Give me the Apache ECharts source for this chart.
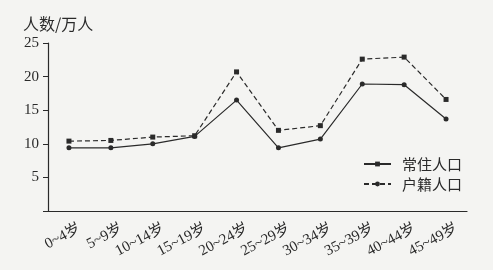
<!DOCTYPE html>
<html><head><meta charset="utf-8">
<script src="https://cdn.jsdelivr.net/npm/echarts@6/dist/echarts.min.js"></script>
<style>html,body{margin:0;padding:0;background:#f4f4f2;}#c{width:493px;height:270px;}</style>
</head><body><div id="c"></div>
<script>
var categories = ['0~4岁','5~9岁','10~14岁','15~19岁','20~24岁','25~29岁','30~34岁','35~39岁','40~44岁','45~49岁'];
var changzhu = [9.4, 9.4, 10.0, 11.1, 16.5, 9.4, 10.7, 18.9, 18.8, 13.7];
var huji = [10.4, 10.5, 11.0, 11.2, 20.7, 12.0, 12.7, 22.6, 22.9, 16.6];
var seriesNames = ['常住人口', '户籍人口'];
var yTicks = [0, 5, 10, 15, 20, 25];

var ink = '#2a2a2a';
var serif = 'Liberation Serif, DejaVu Serif, Noto Sans CJK SC, serif';
var chart = echarts.init(document.getElementById('c'));
chart.setOption({
  backgroundColor: '#f4f4f2',
  animation: false,
  grid: {left: 48, right: 26, top: 43, bottom: 59, containLabel: false},
  title: {text: '人数/万人', left: 18, top: 11, textStyle: {fontFamily: 'Noto Sans CJK SC', fontSize: 16, fontWeight: 'normal', color: ink}},
  legend: {
    orient: 'vertical', left: 358, top: 151, itemWidth: 27, itemHeight: 6, itemGap: 4,
    textStyle: {fontFamily: 'Noto Sans CJK SC', fontSize: 15, lineHeight: 16, color: ink, padding: [0,0,0,6]},
    data: [
      {name: seriesNames[0]},
      {name: seriesNames[1]}
    ]
  },
  xAxis: {
    type: 'category', data: categories, boundaryGap: true,
    axisLine: {lineStyle: {color: ink, width: 1.2}},
    axisTick: {inside: true, length: 5, alignWithLabel: false, lineStyle: {color: ink}},
    axisLabel: {rotate: 28, margin: 22, interval: 0, color: ink, fontFamily: serif, fontSize: 15, padding: [0, -12, 0, 0]}
  },
  yAxis: {
    type: 'value', min: yTicks[0], max: yTicks[yTicks.length-1], interval: 5,
    splitLine: {show: false},
    axisLine: {show: true, lineStyle: {color: ink, width: 1.2}},
    axisTick: {show: true, length: 5, lineStyle: {color: ink}},
    axisLabel: {color: ink, fontFamily: serif, fontSize: 15, margin: 9, formatter: function(v){return v === 0 ? '' : v;}}
  },
  series: [
    {name: seriesNames[0], type: 'line', symbol: 'rect', symbolSize: 5,
     data: changzhu.map(function(v){return {value: v, symbol: 'circle'};}),
     lineStyle: {color: ink, width: 1.2, type: 'solid'}, itemStyle: {color: ink}},
    {name: seriesNames[1], type: 'line', symbol: 'circle', symbolSize: 5,
     data: huji.map(function(v){return {value: v, symbol: 'rect'};}),
     lineStyle: {color: ink, width: 1.2, type: [5, 3]}, itemStyle: {color: ink}}
  ]
});
</script></body></html>
